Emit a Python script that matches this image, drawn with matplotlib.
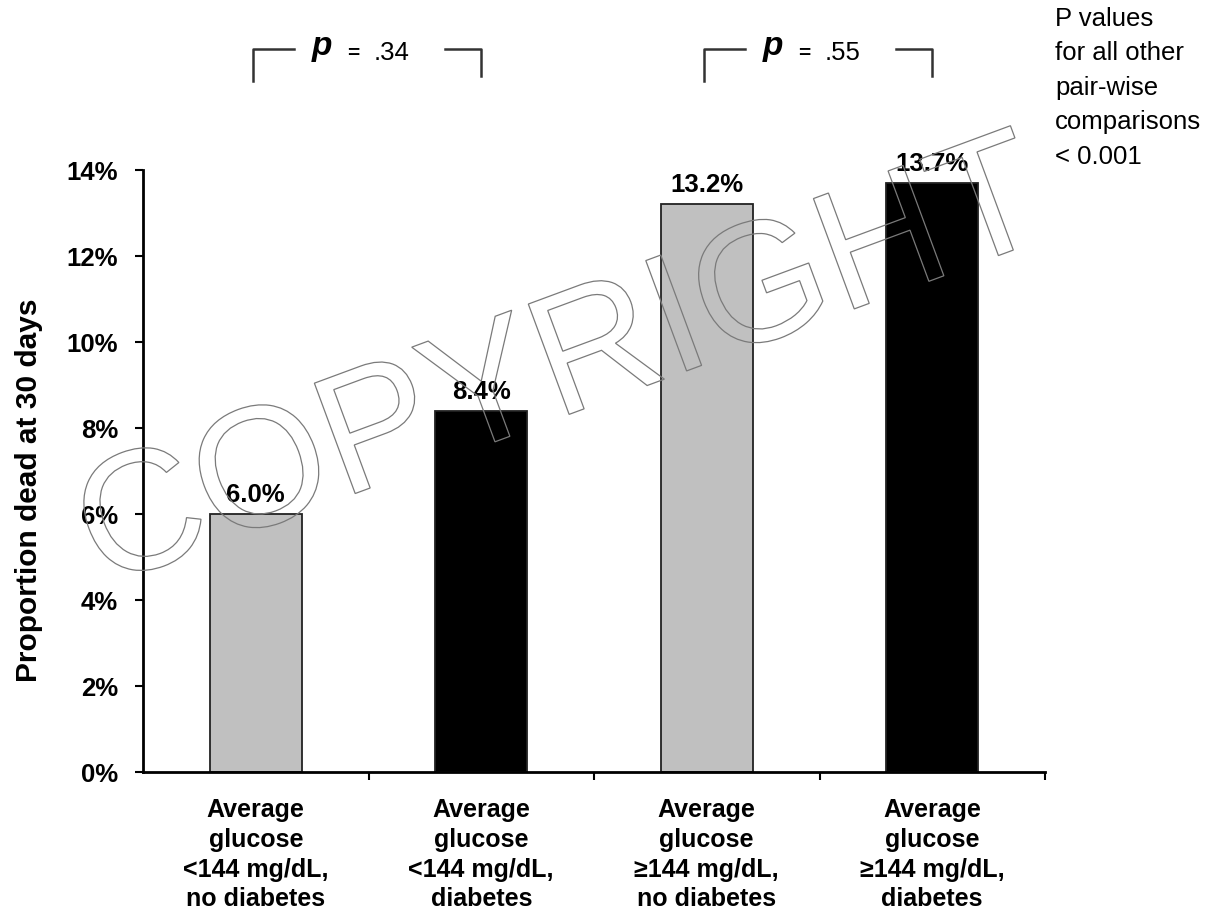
import matplotlib
matplotlib.use("Agg")
import matplotlib.pyplot as plt
import matplotlib.transforms as mtransforms
from matplotlib.textpath import TextPath
from matplotlib.patches import PathPatch
from matplotlib.font_manager import FontProperties
from matplotlib.ticker import FixedLocator, FuncFormatter

plt.rcParams['font.family'] = ['Liberation Sans', 'DejaVu Sans']

# 30-day mortality by glucose / diabetes group
categories = [
    "Average\nglucose\n<144 mg/dL,\nno diabetes",
    "Average\nglucose\n<144 mg/dL,\ndiabetes",
    "Average\nglucose\n\u2265144 mg/dL,\nno diabetes",
    "Average\nglucose\n\u2265144 mg/dL,\ndiabetes",
]
mortality_pct = [6.0, 8.4, 13.2, 13.7]
bar_colors = ["#c0c0c0", "#000000", "#c0c0c0", "#000000"]
y_ticks = [0, 2, 4, 6, 8, 10, 12, 14]

# pair-wise comparisons: (first bar, second bar, p-value text)
comparisons = [(0, 1, ".34"), (2, 3, ".55")]
other_note = "P values\nfor all other\npair-wise\ncomparisons\n< 0.001"

W, H = 1219, 915
fig = plt.figure(figsize=(W / 100, H / 100), dpi=100)
ax = fig.add_axes([143 / W, 1 - 772 / H, (1045 - 143) / W, (772 - 170) / H])

x = list(range(len(categories)))
ax.bar(x, mortality_pct, width=0.41, color=bar_colors, edgecolor="#222222",
       linewidth=1.3, zorder=2)

for xi, v in zip(x, mortality_pct):
    ax.annotate(f"{v:.1f}%", (xi, v), xytext=(0, 5), textcoords="offset points",
                ha="center", va="bottom", fontsize=18.5, fontweight="bold", zorder=3)

ax.set_xlim(-0.5, len(categories) - 0.5)
ax.set_ylim(0, 14)
ax.yaxis.set_major_locator(FixedLocator(y_ticks))
ax.yaxis.set_major_formatter(FuncFormatter(lambda v, _: f"{v:.0f}%"))
ax.set_xticks(x)
ax.set_xticklabels(categories, fontsize=18, fontweight="bold", linespacing=1.3)
ax.set_xticks([i + 0.5 for i in x], minor=True)
ax.tick_params(axis="x", which="major", length=0, pad=19)
ax.tick_params(axis="x", which="minor", length=6, width=1.5, direction="out")
ax.tick_params(axis="y", length=6, width=1.5, direction="out", pad=12, labelsize=18.5)
for lab in ax.get_yticklabels():
    lab.set_fontweight("bold")

for side in ("top", "right"):
    ax.spines[side].set_visible(False)
for side in ("left", "bottom"):
    ax.spines[side].set_linewidth(2)

ax.set_ylabel("Proportion dead at 30 days", fontsize=21.5, fontweight="bold")
ax.yaxis.set_label_coords(-0.111, 0.468)

# significance brackets above the bars
btrans = mtransforms.blended_transform_factory(ax.transData, ax.transAxes)
def frac(py):
    return (772 - py) / (772 - 170)

for a, b, ptxt in comparisons:
    ytop = frac(49)
    ax.plot([a - 0.01, a - 0.01, a + 0.17], [frac(81), ytop, ytop], color="#333333",
            lw=1.8, transform=btrans, clip_on=False)
    ax.plot([b - 0.16, b, b], [ytop, ytop, frac(76)], color="#333333",
            lw=1.8, transform=btrans, clip_on=False)
    mid = (a + b) / 2
    ax.text(mid - 0.205, frac(55), "p", transform=btrans, fontsize=24,
            fontweight="bold", fontstyle="italic", ha="center", va="baseline")
    ax.text(mid - 0.068, frac(59), "=", transform=btrans, fontsize=15,
            fontweight="bold", ha="center", va="baseline")
    ax.text(mid + 0.022, frac(60), ptxt, transform=btrans, fontsize=18.5,
            ha="left", va="baseline")

fig.text(1055 / W, 1 - 7 / H, other_note, fontsize=18.5, ha="left", va="top",
         linespacing=1.55)

# outlined diagonal watermark
fp = FontProperties(family="Liberation Sans")
tp = TextPath((0, 0), "COPYRIGHT", size=171, prop=fp)
ext = tp.get_extents()
cx, cy = (ext.x0 + ext.x1) / 2, (ext.y0 + ext.y1) / 2
wm_tr = (mtransforms.Affine2D().translate(-cx, -cy).rotate_deg(20.3)
         .translate(560, H - 355))
wm = PathPatch(wm_tr.transform_path(tp), facecolor="none", edgecolor="#7a7a7a",
               lw=0.9, transform=mtransforms.IdentityTransform(), zorder=10)
fig.patches.append(wm)

fig.savefig("out.png", dpi=100)
